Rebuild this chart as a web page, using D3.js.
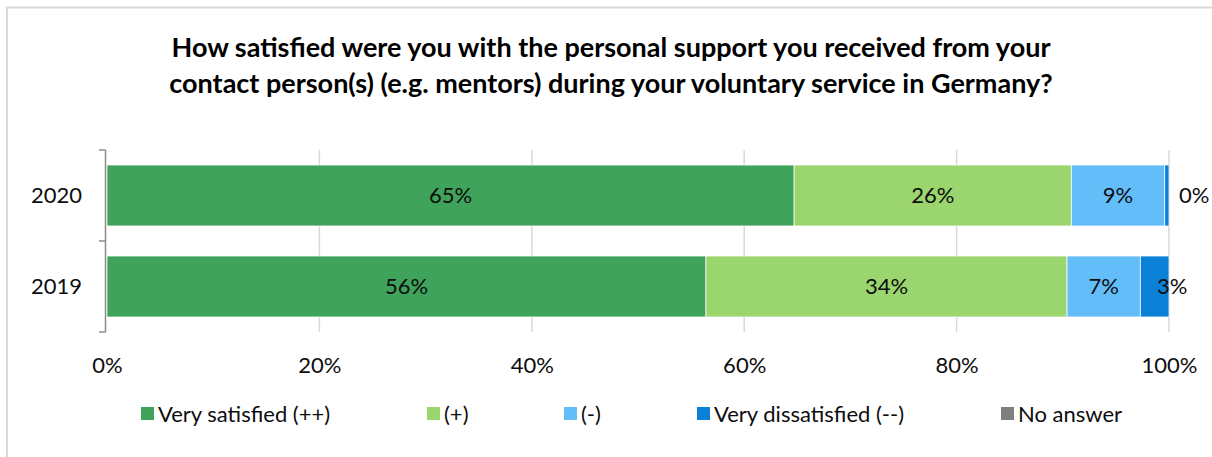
<!DOCTYPE html>
<html>
<head>
<meta charset="utf-8">
<script src="https://cdn.jsdelivr.net/npm/d3@7"></script>
<style>
  html, body { margin: 0; padding: 0; background: #fff; overflow: hidden; }
  svg { display: block; font-family: Lato, "Open Sans", sans-serif; }
</style>
</head>
<body>
<svg id="chart" width="1212" height="457"></svg>
<script>
// Survey years, top to bottom
const years = ["2020", "2019"];
// Answer categories (legend order)
const categories = ["Very satisfied (++)", "(+)", "(-)", "Very dissatisfied (--)", "No answer"];
// Share of respondents per category, one array per year
const values2020 = [0.647, 0.261, 0.088, 0.004, 0];
const values2019 = [0.564, 0.340, 0.069, 0.027, 0];
const tickValues = [0, 0.2, 0.4, 0.6, 0.8, 1];
const colors = ["#3fa35b", "#9bd56e", "#63bdf9", "#0a80d6", "#7f7f7f"];

const titleLines = [
  "How satisfied were you with the personal support you received from your",
  "contact person(s) (e.g. mentors) during your voluntary service in Germany?"
];

const svg = d3.select("#chart");
const plotLeft = 107, plotRight = 1169, plotTop = 150, plotBottom = 332;
const textColor = "#0d0d0d";

// chart frame: only the top and left edges lie inside the canvas
svg.append("path")
  .attr("d", "M7,457V7.5H1212")
  .attr("fill", "none").attr("stroke", "#d9d9d9").attr("stroke-width", 2);

// title
svg.append("g").selectAll("text").data(titleLines).join("text")
  .attr("x", 611).attr("y", (d, i) => 57 + i * 36)
  .attr("text-anchor", "middle")
  .attr("font-size", 27).attr("font-weight", "bold").attr("fill", "#000")
  .text(d => d);

const x = d3.scaleLinear().domain([0, 1]).range([plotLeft, plotRight]);
const y = d3.scaleBand().domain(years).range([plotTop, plotBottom])
  .paddingInner(0.33).paddingOuter(0.165);

// vertical gridlines
svg.append("g").selectAll("line").data(tickValues.slice(1)).join("line")
  .attr("x1", d => x(d)).attr("x2", d => x(d))
  .attr("y1", plotTop).attr("y2", plotBottom)
  .attr("stroke", "#d9d9d9").attr("stroke-width", 1.5);

// stacked series
const rows = years.map((yr, i) => {
  const vals = i === 0 ? values2020 : values2019;
  const row = { year: yr };
  categories.forEach((c, j) => row[c] = vals[j]);
  return row;
});
const stacked = d3.stack().keys(categories)(rows);

const layers = svg.append("g").selectAll("g").data(stacked).join("g")
  .attr("fill", (d, i) => colors[i]);

layers.selectAll("rect").data(d => d).join("rect")
  .attr("x", d => x(d[0]))
  .attr("y", d => y(d.data.year))
  .attr("width", d => Math.max(0, x(d[1]) - x(d[0])))
  .attr("height", y.bandwidth())
  .attr("stroke", "#fff").attr("stroke-width", 0.75);

// data labels: centred, or nudged past the bar end when the segment is narrow
const fmt = d3.format(".0%");
const labelG = svg.append("g");
stacked.forEach((layer, li) => {
  if (li === 4) return;
  layer.forEach(d => {
    const v = d[1] - d[0];
    const w = x(d[1]) - x(d[0]);
    let lx = (x(d[0]) + x(d[1])) / 2, anchor = "middle";
    if (w < 8) { lx = x(d[1]) + 10; anchor = "start"; }
    else if (w < 40) { lx = x(d[1]) - 12; anchor = "start"; }
    labelG.append("text")
      .attr("x", lx).attr("y", y(d.data.year) + y.bandwidth() / 2)
      .attr("dy", "0.35em").attr("text-anchor", anchor)
      .attr("font-size", 22).attr("fill", textColor)
      .text(fmt(v));
  });
});

// category axis with ticks at the band boundaries
svg.append("line")
  .attr("x1", plotLeft - 1.5).attr("x2", plotLeft - 1.5).attr("y1", plotTop).attr("y2", plotBottom)
  .attr("stroke", "#8c8c8c").attr("stroke-width", 1.5);
const bounds = d3.range(years.length + 1).map(i => plotTop + i * y.step());
svg.append("g").selectAll("line").data(bounds).join("line")
  .attr("x1", plotLeft - 8).attr("x2", plotLeft - 1.5)
  .attr("y1", d => d).attr("y2", d => d)
  .attr("stroke", "#8c8c8c").attr("stroke-width", 1.5);
svg.append("g").selectAll("text").data(years).join("text")
  .attr("x", 82).attr("y", d => y(d) + y.bandwidth() / 2)
  .attr("dy", "0.35em").attr("text-anchor", "end")
  .attr("font-size", 22).attr("fill", textColor)
  .text(d => d);

// value axis
const xAxis = d3.axisBottom(x).tickValues(tickValues).tickFormat(d3.format(".0%")).tickSize(0).tickPadding(0);
const xg = svg.append("g").attr("transform", `translate(0,${plotBottom})`).call(xAxis);
xg.select(".domain").remove();
xg.selectAll("text").attr("y", 33).attr("dy", "0.35em")
  .attr("font-size", 22).attr("fill", textColor).attr("font-family", "Lato, sans-serif");

// legend
const legendX = [141, 427, 564, 697, 1001];
const lg = svg.append("g").selectAll("g").data(categories).join("g")
  .attr("transform", (d, i) => `translate(${legendX[i]},414)`);
lg.append("rect").attr("x", 0).attr("y", -7).attr("width", 13).attr("height", 13)
  .attr("fill", (d, i) => colors[i]);
lg.append("text").attr("x", 17).attr("dy", "0.35em")
  .attr("font-size", 22).attr("fill", textColor).text(d => d);
</script>
</body>
</html>
